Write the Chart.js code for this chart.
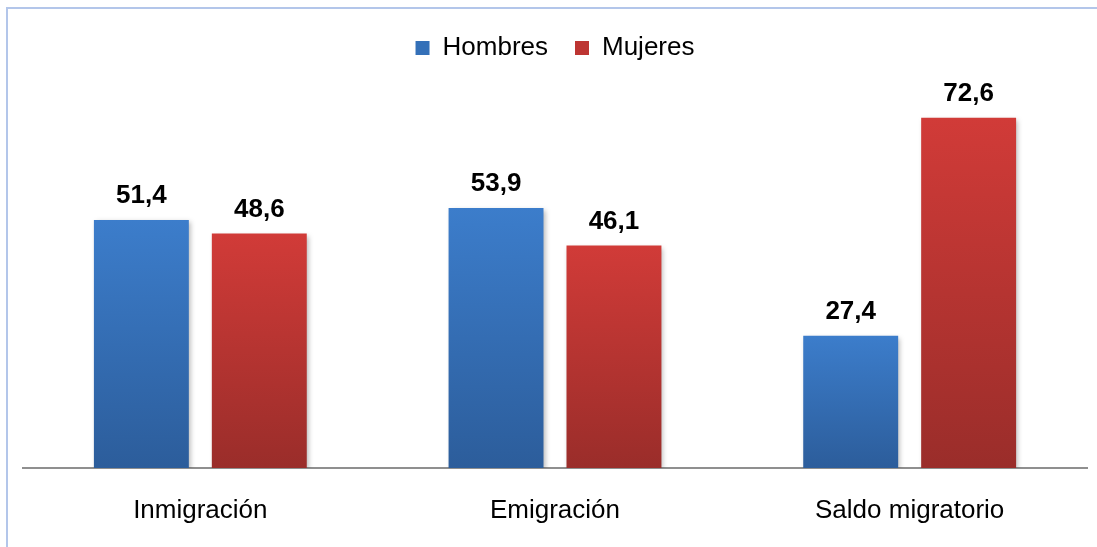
<!DOCTYPE html>
<html>
<head>
<meta charset="utf-8">
<script src="https://cdn.jsdelivr.net/npm/chart.js@4"></script>
<style>
  html, body { margin: 0; padding: 0; background: #fff; }
  #wrap { width: 1097px; height: 547px; position: relative; }
</style>
</head>
<body>
<div id="wrap"><canvas id="myChart"></canvas></div>
<script>
const categories = ["Inmigración", "Emigración", "Saldo migratorio"];
const hombres = [51.4, 53.9, 27.4];
const mujeres = [48.6, 46.1, 72.6];

const FONT = "'Liberation Sans', Arial, sans-serif";

// vertical gradient per bar, from its top to the baseline
function barGradient(top, bottom) {
    return function (context) {
        const chart = context.chart;
        if (!chart.chartArea || context.type !== "data") return top;
        const y = chart.scales.y;
        const v = context.parsed ? context.parsed.y : context.raw;
        const y0 = y.getPixelForValue(v);
        const y1 = y.getPixelForValue(0);
        const g = chart.ctx.createLinearGradient(0, y0, 0, y1);
        g.addColorStop(0, top);
        g.addColorStop(1, bottom);
        return g;
    };
}

// frame of the chart object (top and left edge only visible)
const framePlugin = {
    id: "frame",
    beforeDraw(chart) {
        const c = chart.ctx;
        c.save();
        c.strokeStyle = "#b3c6ea";
        c.lineWidth = 2;
        c.beginPath();
        c.moveTo(7, 560);
        c.lineTo(7, 8);
        c.lineTo(1110, 8);
        c.stroke();
        c.restore();
    },
};

// soft shadow under the bars
const shadowPlugin = {
    id: "barShadow",
    beforeDatasetsDraw(chart) {
        const c = chart.ctx;
        c.save();
        c.shadowColor = "rgba(0,0,0,0.28)";
        c.shadowBlur = 5;
        c.shadowOffsetX = 2;
        c.shadowOffsetY = 2;
    },
    afterDatasetsDraw(chart) {
        chart.ctx.restore();
    },
};

// value labels above bars
const valueLabels = {
    id: "valueLabels",
    afterDatasetsDraw(chart) {
        const c = chart.ctx;
        c.save();
        c.font = "bold 26px " + FONT;
        c.fillStyle = "#000";
        c.textAlign = "center";
        c.textBaseline = "alphabetic";
        chart.data.datasets.forEach((ds, i) => {
            chart.getDatasetMeta(i).data.forEach((bar, j) => {
                const txt = ds.data[j].toFixed(1).replace(".", ",");
                c.fillText(txt, bar.x, bar.y - 17);
            });
        });
        c.restore();
    },
};

new Chart(document.getElementById("myChart"), {
    type: "bar",
    data: {
        labels: categories,
        datasets: [
            {
                label: "Hombres",
                data: hombres,
                backgroundColor: barGradient("#3c7dcb", "#2c5d9b"),
                borderWidth: 0,
                categoryPercentage: 0.665,
                barPercentage: 0.805,
            },
            {
                label: "Mujeres",
                data: mujeres,
                backgroundColor: barGradient("#d13b38", "#9a2d2a"),
                borderWidth: 0,
                categoryPercentage: 0.665,
                barPercentage: 0.805,
            },
        ],
    },
    options: {
        responsive: true,
        maintainAspectRatio: false,
        animation: false,
        layout: {
            padding: { top: 8, left: 23, right: 10, bottom: 0 },
        },
        plugins: {
            legend: {
                display: true,
                position: "top",
                labels: {
                    boxWidth: 14,
                    boxHeight: 14,
                    padding: 27,
                    color: "#000",
                    font: { family: FONT, size: 26 },
                    generateLabels() {
                        return [
                            { text: "Hombres", fillStyle: "#3470b8", strokeStyle: "#3470b8", lineWidth: 0, datasetIndex: 0 },
                            { text: "Mujeres", fillStyle: "#bd3532", strokeStyle: "#bd3532", lineWidth: 0, datasetIndex: 1 },
                        ];
                    },
                },
            },
            tooltip: { enabled: false },
        },
        scales: {
            x: {
                grid: { display: false, drawTicks: false },
                border: { display: true, color: "#8f8f8f", width: 2 },
                ticks: {
                    color: "#000",
                    padding: 27,
                    font: { family: FONT, size: 26 },
                },
                afterFit(scale) {
                    scale.height = 79;
                },
            },
            y: {
                display: false,
                min: 0,
                max: 82.3,
            },
        },
    },
    plugins: [framePlugin, shadowPlugin, valueLabels],
});
</script>
</body>
</html>
